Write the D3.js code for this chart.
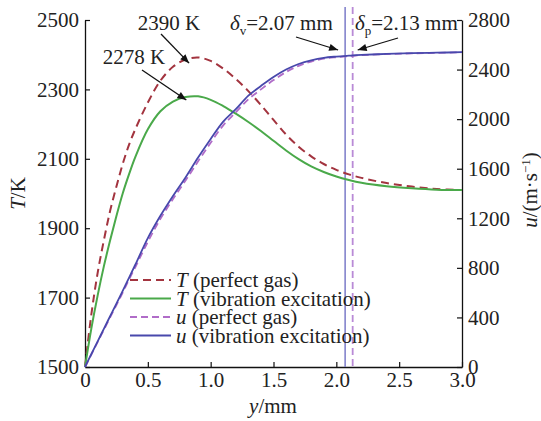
<!DOCTYPE html>
<html>
<head>
<meta charset="utf-8">
<script src="https://cdn.jsdelivr.net/npm/d3@7"></script>
<style>
  body { margin: 0; background: #fff; }
</style>
</head>
<body>
<div id="main"></div>
<script>
// distance from wall, mm
const yMm = [0, 0.05, 0.1, 0.15, 0.2, 0.25, 0.3, 0.35, 0.4, 0.5, 0.6, 0.7, 0.8, 0.9, 1.0, 1.1, 1.2, 1.3, 1.4,
             1.5, 1.6, 1.7, 1.8, 1.9, 2.0, 2.1, 2.2, 2.4, 2.6, 2.8, 3.0];

// temperature, K
const tPerfect = [1500, 1650, 1770, 1865, 1950, 2020, 2085, 2140, 2185, 2262, 2325, 2365, 2386, 2392, 2382,
                  2360, 2330, 2295, 2255, 2212, 2170, 2135, 2107, 2085, 2068, 2055, 2045, 2030, 2020, 2013, 2010];
const tVib = [1500, 1610, 1705, 1790, 1865, 1935, 2000, 2055, 2105, 2185, 2237, 2265, 2278, 2280, 2270,
              2252, 2230, 2206, 2180, 2152, 2124, 2099, 2078, 2062, 2049, 2039, 2031, 2021, 2015, 2011, 2010];

// velocity, m/s
const uPerfect = [0, 100, 200, 300, 400, 500, 600, 705, 805, 1010, 1195, 1355, 1505, 1660, 1810, 1950, 2055,
                  2160, 2240, 2315, 2380, 2430, 2465, 2488, 2500, 2509, 2516, 2525, 2531, 2535, 2540];
const uVib = [0, 103, 205, 308, 410, 512, 615, 720, 825, 1040, 1220, 1380, 1530, 1690, 1840, 1980, 2080,
              2190, 2268, 2340, 2400, 2445, 2475, 2495, 2505, 2512, 2518, 2526, 2532, 2536, 2540];

const xTicks = [0, 0.5, 1.0, 1.5, 2.0, 2.5, 3.0];
const tTicks = [1500, 1700, 1900, 2100, 2300, 2500];
const uTicks = [0, 400, 800, 1200, 1600, 2000, 2400, 2800];

const deltaV = 2.07, deltaP = 2.13;
const peakPerfect = [0.9, 2390], peakVib = [0.87, 2278];

const FONT = "Liberation Serif";
const width = 541, height = 421;
const margin = {left: 85, right: 79, top: 20, bottom: 54};

const svg = d3.select("#main").append("svg")
    .attr("width", width)
    .attr("height", height);

const x = d3.scaleLinear().domain([0, 3]).range([margin.left, width - margin.right]);
const yT = d3.scaleLinear().domain([1500, 2500]).range([height - margin.bottom, margin.top]);
const yU = d3.scaleLinear().domain([0, 2800]).range([height - margin.bottom, margin.top]);

svg.append("defs").append("marker")
    .attr("id", "arrow")
    .attr("viewBox", "0 0 10 10")
    .attr("refX", 10).attr("refY", 5)
    .attr("markerWidth", 10).attr("markerHeight", 9)
    .attr("markerUnits", "userSpaceOnUse")
    .attr("orient", "auto")
    .append("path").attr("d", "M0,1 L10,5 L0,9 Z").attr("fill", "#111");

// axes, ticks point inward
function styleAxis(g) {
    g.select(".domain").attr("stroke", "#111").attr("stroke-width", 1.3);
    g.selectAll(".tick line").attr("stroke", "#111").attr("stroke-width", 1.2);
    g.selectAll(".tick text").style("font-size", "21px");
}

svg.append("g")
    .attr("transform", `translate(0,${height - margin.bottom})`)
    .call(d3.axisBottom(x).tickValues(xTicks).tickSizeInner(-5).tickSizeOuter(0)
        .tickPadding(5).tickFormat(d => d === 0 ? "0" : d3.format(".1f")(d)))
    .call(styleAxis);

svg.append("g")
    .attr("transform", `translate(${margin.left},0)`)
    .call(d3.axisLeft(yT).tickValues(tTicks).tickSizeInner(-5).tickSizeOuter(0)
        .tickPadding(6).tickFormat(d3.format("d")))
    .call(styleAxis);

svg.append("g")
    .attr("transform", `translate(${width - margin.right},0)`)
    .call(d3.axisRight(yU).tickValues(uTicks).tickSizeInner(-5).tickSizeOuter(0)
        .tickPadding(6).tickFormat(d3.format("d")))
    .call(styleAxis);

// boundary layer thickness markers
svg.append("line")
    .attr("x1", x(deltaV)).attr("x2", x(deltaV))
    .attr("y1", 7).attr("y2", yU(0))
    .attr("stroke", "#8484cc").attr("stroke-width", 1.6);
svg.append("line")
    .attr("x1", x(deltaP)).attr("x2", x(deltaP))
    .attr("y1", 7).attr("y2", yU(0))
    .attr("stroke", "#b98ad6").attr("stroke-width", 1.8)
    .attr("stroke-dasharray", "7,4");

const series = [
    {label: "T", note: " (perfect gas)", vals: tPerfect, scale: yT, color: "#a3343f", dash: "8,5", w: 2},
    {label: "T", note: " (vibration excitation)", vals: tVib, scale: yT, color: "#4aa94a", dash: null, w: 2},
    {label: "u", note: " (perfect gas)", vals: uPerfect, scale: yU, color: "#b06cc8", dash: "7,4", w: 1.8},
    {label: "u", note: " (vibration excitation)", vals: uVib, scale: yU, color: "#4848ac", dash: null, w: 1.8}
];

series.forEach(s => {
    const line = d3.line()
        .x((d, i) => x(yMm[i]))
        .y(d => s.scale(d))
        .curve(d3.curveCatmullRom.alpha(0.5));
    svg.append("path")
        .datum(s.vals)
        .attr("fill", "none")
        .attr("stroke", s.color)
        .attr("stroke-width", s.w)
        .attr("stroke-dasharray", s.dash)
        .attr("d", line);
});

// legend
const legend = svg.append("g").attr("transform", "translate(130,280)");
series.forEach((s, i) => {
    const row = legend.append("g").attr("transform", `translate(0,${i * 18.5})`);
    row.append("line")
        .attr("x1", 0).attr("x2", 41)
        .attr("stroke", s.color).attr("stroke-width", s.w)
        .attr("stroke-dasharray", s.dash);
    const t = row.append("text").attr("x", 46).attr("y", 7).style("font-size", "21px");
    t.append("tspan").attr("font-style", "italic").text(s.label);
    t.append("tspan").text(s.note);
});

// peak annotations
function arrow(x1, y1, x2, y2) {
    svg.append("line")
        .attr("x1", x1).attr("y1", y1).attr("x2", x2).attr("y2", y2)
        .attr("stroke", "#111").attr("stroke-width", 1.3)
        .attr("marker-end", "url(#arrow)");
}

svg.append("text").attr("x", 169).attr("y", 30).attr("text-anchor", "middle")
    .style("font-size", "21px").text("2390 K");
arrow(161, 34, x(peakPerfect[0]) - 9, yT(peakPerfect[1]) + 5);

svg.append("text").attr("x", 134).attr("y", 64).attr("text-anchor", "middle")
    .style("font-size", "21px").text("2278 K");
arrow(142, 70, x(peakVib[0]) - 8, yT(peakVib[1]) + 3);

const dv = svg.append("text").attr("x", 230).attr("y", 30).style("font-size", "21px");
dv.append("tspan").attr("font-style", "italic").text("δ");
dv.append("tspan").attr("dy", 5).style("font-size", "13px").text("v");
dv.append("tspan").attr("dy", -5).text("=2.07 mm");
arrow(296, 37, x(deltaV) - 7, 50);

const dp = svg.append("text").attr("x", 355).attr("y", 30).style("font-size", "21px");
dp.append("tspan").attr("font-style", "italic").text("δ");
dp.append("tspan").attr("dy", 5).style("font-size", "13px").text("p");
dp.append("tspan").attr("dy", -5).text("=2.13 mm");
arrow(398, 38, x(deltaP) + 5, 50);

// axis titles
const tl = svg.append("text")
    .attr("transform", `translate(25,${(margin.top + height - margin.bottom) / 2}) rotate(-90)`)
    .attr("text-anchor", "middle").style("font-size", "21px");
tl.append("tspan").attr("font-style", "italic").text("T");
tl.append("tspan").text("/K");

const ul = svg.append("text")
    .attr("transform", `translate(537,190) rotate(-90)`)
    .attr("text-anchor", "middle").style("font-size", "21px");
ul.append("tspan").attr("font-style", "italic").text("u");
ul.append("tspan").text("/(m·s");
ul.append("tspan").attr("dy", -7).style("font-size", "13px").text("−1");
ul.append("tspan").attr("dy", 7).text(")");

const xl = svg.append("text")
    .attr("x", 273).attr("y", 413)
    .attr("text-anchor", "middle").style("font-size", "21px");
xl.append("tspan").attr("font-style", "italic").text("y");
xl.append("tspan").text("/mm");

svg.selectAll("g").attr("font-family", null);
svg.selectAll("text").style("font-family", FONT).style("fill", "#222");
</script>
</body>
</html>
